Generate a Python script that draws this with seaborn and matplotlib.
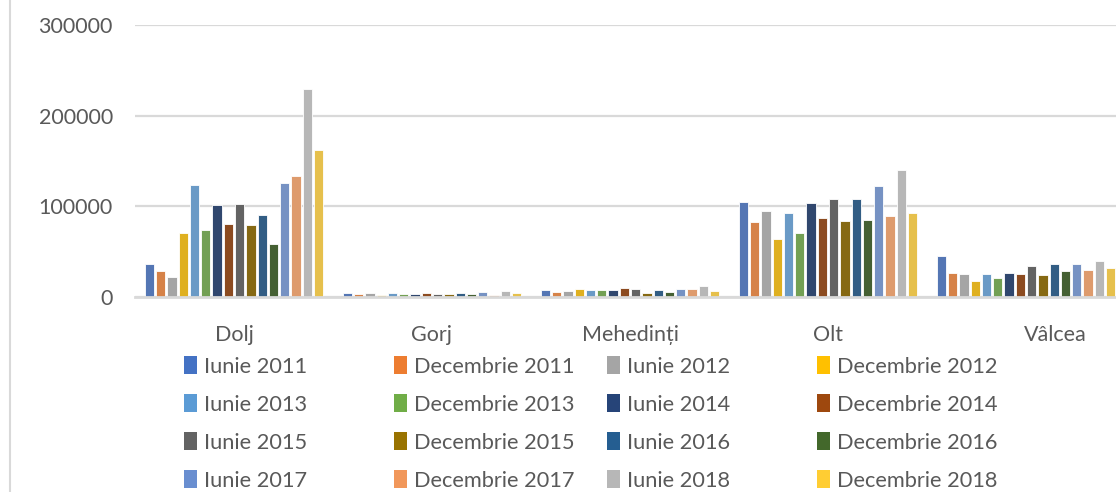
import matplotlib
matplotlib.use("Agg")
import matplotlib.pyplot as plt
import matplotlib.transforms as mtransforms
from matplotlib.patches import Patch
from matplotlib.lines import Line2D
import seaborn as sns
import pandas as pd

# data
judete = ["Dolj", "Gorj", "Mehedinți", "Olt", "Vâlcea"]
perioade = ["Iunie 2011", "Decembrie 2011", "Iunie 2012", "Decembrie 2012",
            "Iunie 2013", "Decembrie 2013", "Iunie 2014", "Decembrie 2014",
            "Iunie 2015", "Decembrie 2015", "Iunie 2016", "Decembrie 2016",
            "Iunie 2017", "Decembrie 2017", "Iunie 2018", "Decembrie 2018"]

dolj = [36000, 28500, 22500, 71000, 124000, 73500, 102000, 80000,
        103000, 79000, 90500, 58000, 126000, 133500, 229000, 162500]
gorj = [4000, 3000, 4000, 2600, 4800, 3700, 3700, 4800,
        2900, 2900, 4000, 2900, 5900, 2600, 6200, 4400]
mehedinti = [7400, 5900, 7000, 8500, 8100, 7400, 7400, 10300,
             9200, 4000, 8100, 5100, 8800, 9200, 11800, 7000]
olt = [104800, 83000, 94400, 63700, 92200, 70700, 103700, 87400,
       108100, 84100, 108100, 85200, 122200, 89600, 140400, 93000]
valcea = [45600, 26500, 25000, 17600, 25700, 20600, 26800, 25700,
          34200, 24600, 36400, 28700, 36800, 29400, 39700, 32400]

culori = ["#4472C4", "#ED7D31", "#A5A5A5", "#FFC000", "#5B9BD5", "#70AD47",
          "#264478", "#9E480E", "#636363", "#997300", "#255E91", "#43682B",
          "#698ED0", "#F1975A", "#B7B7B7", "#FFCD33"]

rows = []
for jud, vals in zip(judete, [dolj, gorj, mehedinti, olt, valcea]):
    for per, v in zip(perioade, vals):
        rows.append({"judet": jud, "perioada": per, "valoare": v})
df = pd.DataFrame(rows)

sns.set_theme(style="white")
plt.rcParams["font.family"] = ["Lato", "DejaVu Sans"]
text_color = "#595959"
grid_color = "#d9d9d9"

fig = plt.figure(figsize=(11.16, 4.92), dpi=100)
ax = fig.add_axes([135 / 1116, 195 / 492, 990 / 1116, 272 / 492])

sns.barplot(data=df, x="judet", y="valoare", hue="perioada", order=judete,
            hue_order=perioade, palette=culori, width=0.91, gap=0.18,
            edgecolor="white", linewidth=0.6, legend=False, ax=ax)

ax.set_ylim(0, 300000)
ax.set_xlim(-0.5, 4.5)
ax.set_yticks([0, 100000, 200000, 300000])
ax.set_yticklabels(["0", "100000", "200000", "300000"])
ax.yaxis.grid(True, color=grid_color, linewidth=1.6)
ax.set_axisbelow(True)
for s in ["top", "right", "left"]:
    ax.spines[s].set_visible(False)
ax.spines["bottom"].set_color(grid_color)
ax.spines["bottom"].set_linewidth(2)
ax.set_xlabel("")
ax.set_ylabel("")
ax.tick_params(axis="y", length=0, pad=16, labelsize=15.5, labelcolor=text_color)
ax.tick_params(axis="x", length=0, pad=20, labelsize=15.5, labelcolor=text_color)

# Valcea label sits a bit to the right in the original
lbl = ax.get_xticklabels()[4]
lbl.set_transform(lbl.get_transform() + mtransforms.ScaledTranslation(0.29, 0, fig.dpi_scale_trans))

# chart border on the left
fig.add_artist(Line2D([10 / 1116, 10 / 1116], [0, 1], color=grid_color, linewidth=1.5))

# legend laid out row-wise in 4 columns
col_x = [184, 394, 607, 817]
for c in range(4):
    idx = [c + 4 * r for r in range(4)]
    handles = [Patch(facecolor=culori[i], edgecolor="none") for i in idx]
    labels = [perioade[i] for i in idx]
    fig.legend(handles, labels, loc="upper left",
               bbox_to_anchor=(col_x[c] / 1116, 1 - 356 / 492),
               frameon=False, fontsize=15.7, labelcolor=text_color,
               handlelength=0.6, handleheight=0.9, handletextpad=0.3,
               labelspacing=0.8, borderpad=0, borderaxespad=0)

fig.savefig("out.png", dpi=100)
